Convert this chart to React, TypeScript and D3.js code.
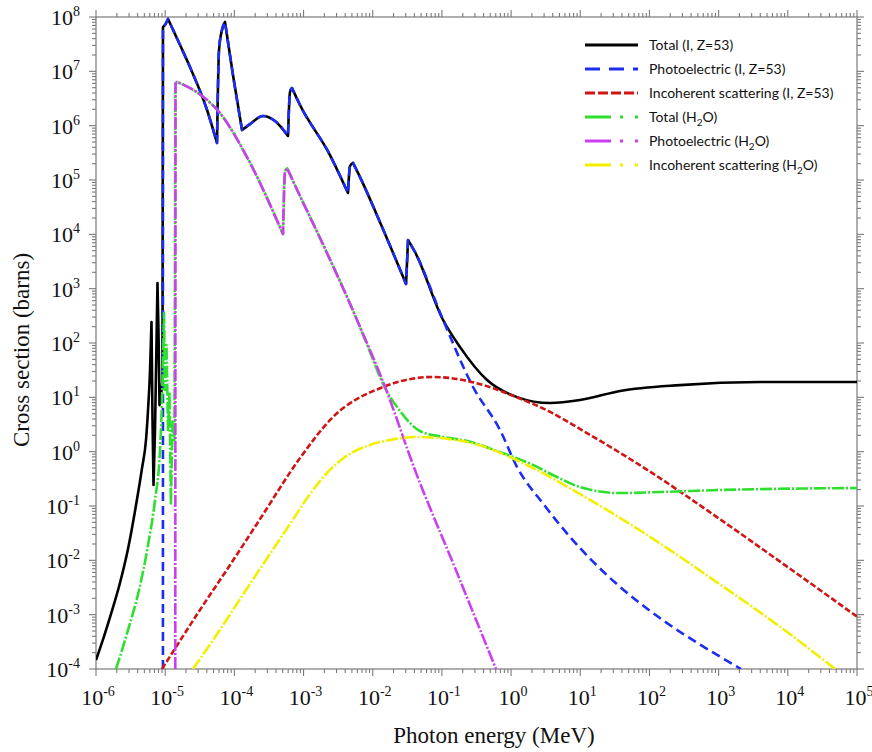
import React from 'react';
import * as d3 from 'd3';

type Pt = [number, number]; // [photon energy (MeV), cross section (barns)]

// ---- Iodine (Z = 53) ----
// Total: smooth rise at the lowest energies
const totalIRise: Pt[] = [
  [1e-6, 1.46e-4], [1.31e-6, 4.04e-4], [1.7e-6, 1.17e-3], [2.22e-6, 3.82e-3],
  [2.9e-6, 1.61e-2], [3.79e-6, 0.104], [4.63e-6, 0.5], [5.28e-6, 1.64],
  [5.65e-6, 5.8], [6.04e-6, 31.8], [6.34e-6, 243],
];
// Total: resonance spikes just below the first edge
const totalISpikes: Pt[] = [
  [6.34e-6, 243], [6.56e-6, 3.8], [6.78e-6, 0.243], [7.13e-6, 2.5],
  [7.5e-6, 113], [7.74e-6, 1270], [8.0e-6, 173], [8.28e-6, 7.2],
  [8.71e-6, 11], [9.14e-6, 20.8], [9.29e-6, 6.55e7],
];
// Absorption-edge region, shared by total and photoelectric; each run is one
// falling branch or one edge jump
const iodineEdgeRuns: Pt[][] = [
  [[9.29e-6, 6.55e7], [9.93e-6, 7.13e7], [1.1e-5, 9.2e7]],
  [[1.1e-5, 9.2e7], [1.64e-5, 3.05e7], [2.28e-5, 1.2e7], [4.03e-5, 1.94e6], [5.61e-5, 4.8e5]],
  [[5.61e-5, 4.8e5], [6.0e-5, 2.47e7], [6.62e-5, 5.77e7], [7.32e-5, 8.1e7]],
  [[7.32e-5, 8.1e7], [9.55e-5, 8.55e6], [1.29e-4, 8.3e5]],
  [[1.29e-4, 8.3e5], [1.68e-4, 1.07e6], [2.59e-4, 1.51e6], [3.87e-4, 1.22e6], [5.96e-4, 6.46e5]],
  [[5.96e-4, 6.46e5], [6.37e-4, 4.17e6], [6.81e-4, 4.93e6]],
  [[6.81e-4, 4.93e6], [8.89e-4, 2.4e6], [2.41e-3, 2.88e5], [4.39e-3, 5.77e4]],
  [[4.39e-3, 5.77e4], [4.7e-3, 1.81e5], [5.19e-3, 2.06e5]],
  [[5.19e-3, 2.06e5], [6.55e-3, 1.13e5], [1.27e-2, 1.69e4], [3.03e-2, 1220]],
  [[3.03e-2, 1220], [3.24e-2, 7850]],
];
const iodineAboveK: Pt[] = [[3.24e-2, 7850], [4.08e-2, 4730], [0.104, 265]];
const totalIHigh: Pt[] = [
  [0.183, 84], [0.449, 20.8], [1.22, 10.1], [3.66, 7.85], [9.9, 8.9],
  [37.6, 13.1], [277, 16.8], [3960, 19.1], [1e5, 19.2],
];
const photoIStart: Pt[] = [[9.28e-6, 1e-4], [9.29e-6, 6.55e7]];
const photoIHigh: Pt[] = [
  [0.282, 15.5], [0.692, 2.5], [1.22, 0.521], [3.09, 0.1], [2110, 1e-4],
];
const incoherentI: Pt[] = [
  [9.0e-6, 1e-4], [3.18e-5, 1.22e-3], [8.65e-5, 8.2e-3], [2.35e-4, 5.75e-2],
  [8.89e-4, 0.764], [2.67e-3, 4.35], [1.41e-2, 15.5], [7.43e-2, 23.7],
  [0.393, 16.9], [1.0, 11], [3.66, 5.4], [10, 2.6], [100, 0.436],
  [1000, 0.0594], [1e4, 7.5e-3], [1e5, 9.2e-4],
];

// ---- Water ----
const totalWRise: Pt[] = [
  [1.95e-6, 1e-4], [2.9e-6, 5.2e-4], [4.19e-6, 2.84e-3], [5.65e-6, 1.91e-2],
  [7.13e-6, 0.129], [8.41e-6, 1.07], [9.0e-6, 8.9], [9.62e-6, 357],
];
const totalWSpikes: Pt[] = [
  [9.62e-6, 357], [9.93e-6, 13.6], [1.045e-5, 92], [1.1e-5, 2.5], [1.154e-5, 12.5],
  [1.21e-5, 0.104], [1.28e-5, 3.8], [1.36e-5, 1.64], [1.41e-5, 6.0e6], [1.48e-5, 6.4e6],
];
const waterEdgeRuns: Pt[][] = [
  [[1.48e-5, 6.4e6], [2.98e-5, 3.99e6], [6.19e-5, 1.71e6], [1.52e-4, 2.65e5], [5.05e-4, 1.01e4]],
  [[5.05e-4, 1.01e4], [5.4e-4, 1.4e5], [5.77e-4, 1.66e5]],
];
const waterAboveK: Pt[] = [[5.77e-4, 1.66e5], [8.89e-4, 5.07e4], [1.73e-3, 8550], [5.93e-3, 265]];
const totalWHigh: Pt[] = [
  [9.14e-3, 68], [1.41e-2, 17.6], [2.48e-2, 5.6], [4.82e-2, 2.4],
  [0.104, 1.86], [0.231, 1.57], [0.692, 0.98], [2.07, 0.57], [4.31, 0.356],
  [9.9, 0.223], [37.6, 0.173], [142, 0.181], [1047, 0.197], [1e5, 0.214],
];
const photoWStart: Pt[] = [[1.4e-5, 1e-4], [1.41e-5, 6.0e6], [1.48e-5, 6.4e6]];
const photoWHigh: Pt[] = [
  [1.51e-2, 15.5], [4.08e-2, 0.459], [0.155, 7.2e-3], [0.605, 1e-4],
];
const incoherentW: Pt[] = [
  [2.52e-5, 1e-4], [4.91e-5, 3.41e-4], [1.68e-4, 3.66e-3], [6.37e-4, 4.66e-2],
  [1.24e-3, 0.166], [2.18e-3, 0.405], [3.97e-3, 0.797], [8.26e-3, 1.27],
  [1.78e-2, 1.64], [4.37e-2, 1.86], [0.231, 1.5], [2.07, 0.5], [10, 0.165],
  [100, 0.0275], [1000, 3.75e-3], [1e4, 4.7e-4], [4.82e4, 1e-4],
];

const seriesLabels = [
  'Total (I, Z=53)',
  'Photoelectric (I, Z=53)',
  'Incoherent scattering (I, Z=53)',
  'Total (H2O)',
  'Photoelectric (H2O)',
  'Incoherent scattering (H2O)',
];

const xExponents = [-6, -5, -4, -3, -2, -1, 0, 1, 2, 3, 4, 5];
const yExponents = [-4, -3, -2, -1, 0, 1, 2, 3, 4, 5, 6, 7, 8];

const W = 872;
const H = 752;
const PL = 96, PR = 857, PT = 17, PB = 669;

// A curve is a chain of pieces: spikes drawn straight, everything else with a
// monotone curve that keeps the edge peaks sharp.
type Piece = { pts: Pt[]; smooth: boolean };
const smooth = (pts: Pt[]): Piece => ({ pts, smooth: true });
const sharp = (pts: Pt[]): Piece => ({ pts, smooth: false });

const series: { pieces: Piece[]; color: string; dash: string | null; legendDash: string | null }[] = [
  {
    pieces: [
      smooth(totalIRise), sharp(totalISpikes),
      ...iodineEdgeRuns.map(smooth), smooth([...iodineAboveK, ...totalIHigh]),
    ],
    color: '#000000', dash: null, legendDash: null,
  },
  {
    pieces: [
      sharp(photoIStart), ...iodineEdgeRuns.map(smooth), smooth([...iodineAboveK, ...photoIHigh]),
    ],
    color: '#1c2cf0', dash: '9,5', legendDash: '15,9',
  },
  { pieces: [smooth(incoherentI)], color: '#d01515', dash: '6,2.5', legendDash: '10,3' },
  {
    pieces: [
      smooth(totalWRise), sharp(totalWSpikes),
      ...waterEdgeRuns.map(smooth), smooth([...waterAboveK, ...totalWHigh]),
    ],
    color: '#2ee02e', dash: '12,2,2,2', legendDash: '26,9,3,12,3,12',
  },
  {
    pieces: [
      sharp(photoWStart), ...waterEdgeRuns.map(smooth), smooth([...waterAboveK, ...photoWHigh]),
    ],
    color: '#cc3ff0', dash: '12,2,2,2', legendDash: '26,9,3,12,3,12',
  },
  { pieces: [smooth(incoherentW)], color: '#f2f000', dash: '12,2,2,2', legendDash: '26,9,3,12,3,12' },
];

function Label({ text }: { text: string }) {
  const i = text.indexOf('H2O');
  if (i < 0) return <>{text}</>;
  return (
    <>
      {text.slice(0, i) + 'H'}
      <tspan dy={3.5} fontSize={10}>2</tspan>
      <tspan dy={-3.5}>{'O' + text.slice(i + 3)}</tspan>
    </>
  );
}

export default function App() {
  const x = d3.scaleLog().domain([1e-6, 1e5]).range([PL, PR]);
  const y = d3.scaleLog().domain([1e-4, 1e8]).range([PB, PT]);
  const smoothLine = d3
    .line<Pt>()
    .x((d) => x(d[0]))
    .y((d) => y(d[1]))
    .curve(d3.curveMonotoneX);
  const sharpLine = d3
    .line<Pt>()
    .x((d) => x(d[0]))
    .y((d) => y(d[1]))
    .curve(d3.curveLinear);

  const pathOf = (pieces: Piece[]) =>
    pieces
      .map((p, i) => {
        const d = (p.smooth ? smoothLine : sharpLine)(p.pts) || '';
        return i === 0 ? d : 'L' + d.slice(1);
      })
      .join('');

  const xTicks: { v: number; major: boolean }[] = [];
  xExponents.forEach((e) => {
    for (let m = 1; m <= 9; m++) {
      if (e === xExponents[xExponents.length - 1] && m > 1) break;
      xTicks.push({ v: m * Math.pow(10, e), major: m === 1 });
    }
  });
  const yTicks: { v: number; major: boolean }[] = [];
  yExponents.forEach((e) => {
    for (let m = 1; m <= 9; m++) {
      if (e === yExponents[yExponents.length - 1] && m > 1) break;
      yTicks.push({ v: m * Math.pow(10, e), major: m === 1 });
    }
  });

  const axisColor = '#7a7a7a';
  const tickFont = '"Liberation Serif", "Times New Roman", serif';
  const majorLen = 7;
  const minorLen = 4;

  const legendX0 = 585;
  const legendX1 = 638;
  const legendY0 = 45;
  const legendStep = 24;

  return (
    <svg
      width={W}
      height={H}
      style={{ position: 'absolute', left: 0, top: 0, display: 'block', background: '#fff' }}
    >
      <defs>
        <clipPath id="plot-clip">
          <rect x={PL} y={PT - 3} width={PR - PL} height={PB - PT + 3} />
        </clipPath>
      </defs>

      {/* frame */}
      <rect x={PL} y={PT} width={PR - PL} height={PB - PT} fill="none" stroke={axisColor} strokeWidth={1.2} />

      {/* x ticks, bottom and top, outward */}
      {xTicks.map((t, i) => {
        const px = x(t.v);
        const len = t.major ? majorLen : minorLen;
        return (
          <g key={'xt' + i} stroke={axisColor} strokeWidth={1.1}>
            <line x1={px} x2={px} y1={PB} y2={PB + len} />
            <line x1={px} x2={px} y1={PT} y2={PT - len} />
          </g>
        );
      })}
      {/* y ticks, left and right, outward */}
      {yTicks.map((t, i) => {
        const py = y(t.v);
        const len = t.major ? majorLen : minorLen;
        return (
          <g key={'yt' + i} stroke={axisColor} strokeWidth={1.1}>
            <line x1={PL} x2={PL - len} y1={py} y2={py} />
            <line x1={PR} x2={PR + len} y1={py} y2={py} />
          </g>
        );
      })}

      {/* x tick labels */}
      {xExponents.map((e) => (
        <text
          key={'xl' + e}
          x={x(Math.pow(10, e)) + 2}
          y={705}
          textAnchor="middle"
          fontFamily={tickFont}
          fontSize={22}
          fill="#111"
        >
          10
          <tspan dy={-9} fontSize={14}>{String(e)}</tspan>
        </text>
      ))}
      {/* y tick labels */}
      {yExponents.map((e) => (
        <text
          key={'yl' + e}
          x={80}
          y={y(Math.pow(10, e)) + 8}
          textAnchor="end"
          fontFamily={tickFont}
          fontSize={22}
          fill="#111"
        >
          10
          <tspan dy={-9} fontSize={14}>{String(e)}</tspan>
        </text>
      ))}

      {/* axis titles */}
      <text x={494} y={743} textAnchor="middle" fontFamily={tickFont} fontSize={23} fill="#111">
        Photon energy (MeV)
      </text>
      <text
        transform={`translate(29, 350) rotate(-90)`}
        textAnchor="middle"
        fontFamily={tickFont}
        fontSize={23}
        fill="#111"
      >
        Cross section (barns)
      </text>

      {/* curves */}
      <g clipPath="url(#plot-clip)" fill="none">
        {series.map((s, i) => (
          <path
            key={'s' + i}
            d={pathOf(s.pieces)}
            stroke={s.color}
            strokeWidth={2.6}
            strokeDasharray={s.dash || undefined}
            strokeLinejoin="round"
          />
        ))}
      </g>

      {/* legend */}
      {series.map((s, i) => {
        const ly = legendY0 + i * legendStep;
        return (
          <g key={'lg' + i}>
            <line
              x1={legendX0}
              x2={legendX1}
              y1={ly}
              y2={ly}
              stroke={s.color}
              strokeWidth={3}
              strokeDasharray={s.legendDash || undefined}
            />
            <text x={649} y={ly + 5} fontFamily="Lato, 'Noto Sans', sans-serif" fontSize={14} fill="#111">
              <Label text={seriesLabels[i]} />
            </text>
          </g>
        );
      })}
    </svg>
  );
}
